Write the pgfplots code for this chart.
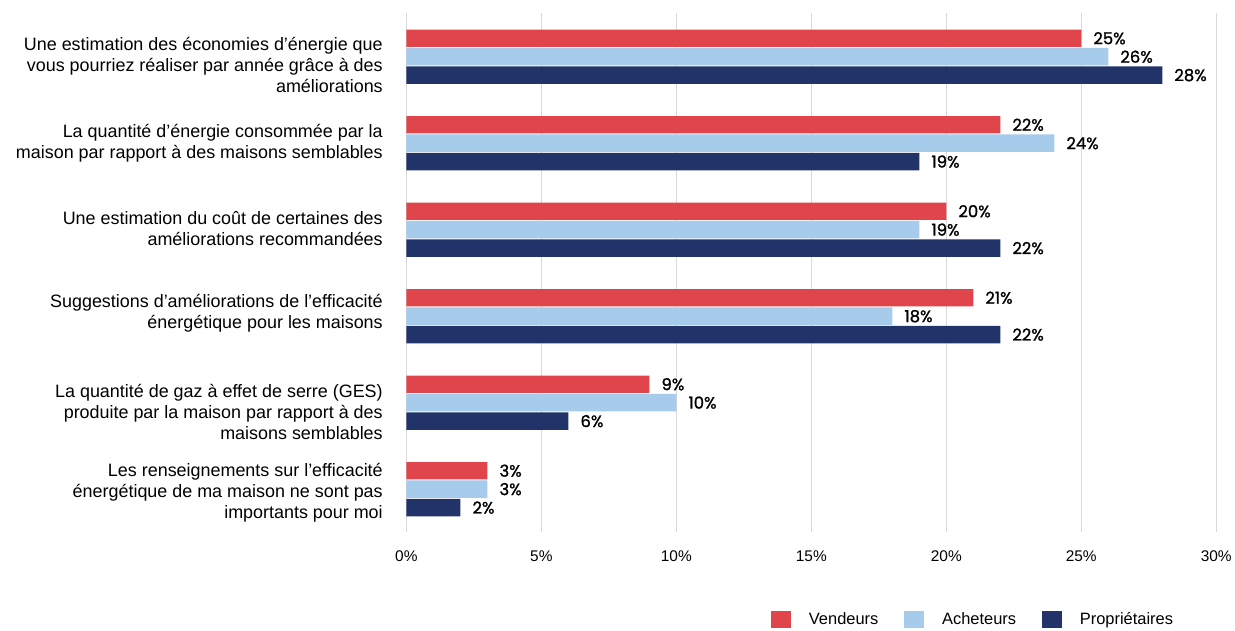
\documentclass[border=0pt]{standalone}
\usepackage{pgfplots}
\pgfplotsset{compat=1.18}
\usepackage{fontspec}
\setmainfont{Liberation Sans}
\newfontfamily\pop[BoldFont=Poppins, BoldFeatures={FakeBold=1.2}]{Poppins}
\definecolor{cred}{HTML}{E0454B}
\definecolor{clight}{HTML}{A6CBEB}
\definecolor{cnavy}{HTML}{22336A}
\begin{document}
\begin{tikzpicture}
\begin{axis}[
  /pgf/number format/assume math mode=true,
  scale only axis, width=813bp, height=521bp,
  xbar, bar width=17.5bp,
  xmin=0, xmax=30, ymin=-0.5, ymax=5.5, y dir=reverse,
  xtick={0,5,...,30},
  xticklabel={\pgfmathprintnumber{\tick}\%},
  xticklabel style={font=\fontsize{15.5bp}{18bp}\selectfont, yshift=-15bp},
  ytick={0,...,5},
  yticklabels={{Une estimation des économies d’énergie que\\vous pourriez réaliser par année grâce à des\\améliorations},
    {La quantité d’énergie consommée par la\\maison par rapport à des maisons semblables},
    {Une estimation du coût de certaines des\\améliorations recommandées},
    {Suggestions d’améliorations de l’efficacité\\énergétique pour les maisons},
    {La quantité de gaz à effet de serre (GES)\\produite par la maison par rapport à des\\maisons semblables},
    {Les renseignements sur l’efficacité\\énergétique de ma maison ne sont pas\\importants pour moi}},
  yticklabel style={align=right, font=\fontsize{18bp}{21bp}\selectfont, xshift=-16bp,
    yshift={(-8.5*(\ticknum==0)+1.5*(\ticknum==2)+3*(\ticknum==3)-9.5*(\ticknum==4)-4*(\ticknum==5))*1bp}},
  axis line style={draw=none},
  tick style={draw=none},
  xmajorgrids, grid style={draw=black!15, line width=0.8bp},
  nodes near coords={\pgfmathprintnumber{\pgfplotspointmeta}\%},
  nodes near coords style={font=\pop\bfseries\fontsize{16.5bp}{18bp}\selectfont, anchor=west, inner sep=0pt, xshift=12bp, text=black},
  legend style={at={(0.953,-0.168)}, anchor=east, draw=none, fill=none, legend columns=3,
    font=\fontsize{16.5bp}{18bp}\selectfont,
    /tikz/every even column/.append style={column sep=24bp}},
  legend image code/.code={\fill[#1] (0bp,-8.5bp) rectangle (20bp,8.5bp); \path[draw=none, fill=none] (20bp,-1bp) rectangle (36bp,1bp);},
]
\addplot[fill=cred, draw=none, bar shift=18.5bp] coordinates {(25,0) (22,1) (20,2) (21,3) (9,4) (3,5)};
\addplot[fill=clight, draw=none, bar shift=0bp] coordinates {(26,0) (24,1) (19,2) (18,3) (10,4) (3,5)};
\addplot[fill=cnavy, draw=none, bar shift=-18.5bp] coordinates {(28,0) (19,1) (22,2) (22,3) (6,4) (2,5)};
\legend{Vendeurs,Acheteurs,Propriétaires}
\end{axis}
\path (-408bp,-92.5bp) rectangle (827bp,534.5bp);
\end{tikzpicture}
\end{document}
